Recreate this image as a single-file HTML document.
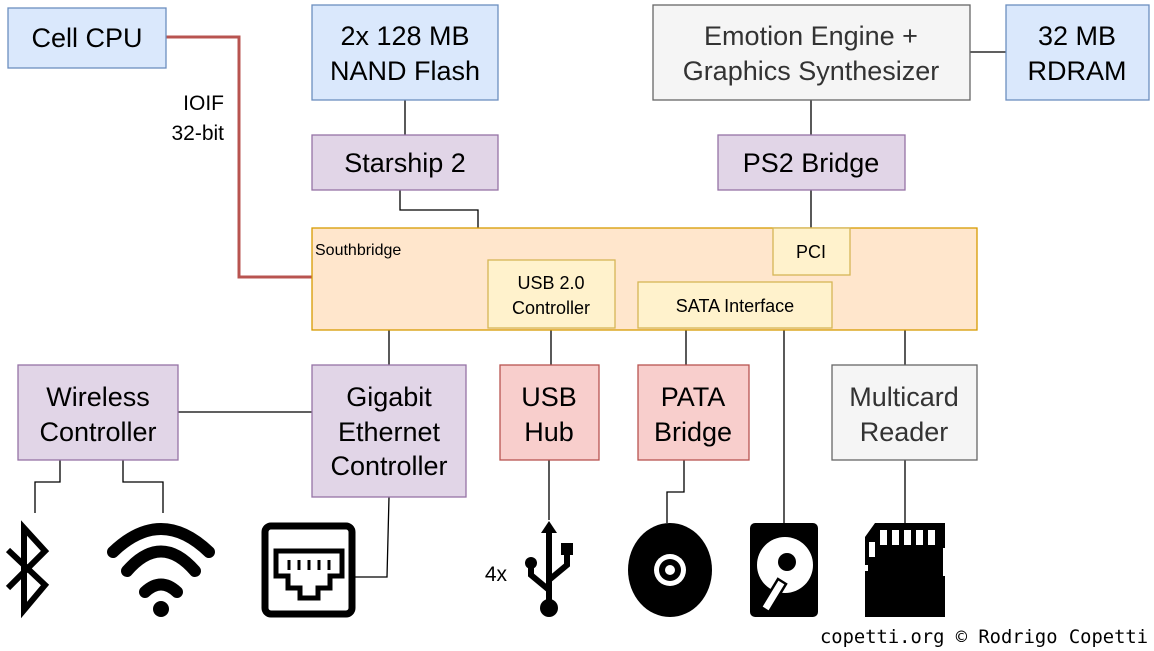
<!DOCTYPE html>
<html><head><style>body{margin:0;background:#fff}svg{display:block}.s{font-family:"Liberation Sans",Arial,sans-serif}.m{font-family:"DejaVu Sans Mono","Liberation Mono",monospace}</style></head><body>
<svg width="1154" height="651" viewBox="0 0 1154 651" xmlns="http://www.w3.org/2000/svg">
<g fill="none" stroke="#000" stroke-width="1.3">
<path d="M405 100V135M400 190V210H478V228M811 100V135M811 190V228M970 52H1006M389 330V365M551 328V365M686 328V365M784 328V523M905 330V365M178 412H312M60 460V482H35V513M123 460V482H163V513M389 497L387 577H355M549 460V520M684 460V492H667V523M905 460V523"/>
</g>
<path d="M166 37H239V277H312" fill="none" stroke="#b85450" stroke-width="3"/>
<g stroke-width="1.3">
<rect x="8" y="8" width="158" height="60" fill="#dae8fc" stroke="#6c8ebf"/>
<rect x="312" y="5" width="186" height="95" fill="#dae8fc" stroke="#6c8ebf"/>
<rect x="653" y="5" width="317" height="95" fill="#f5f5f5" stroke="#666"/>
<rect x="1006" y="5" width="143" height="95" fill="#dae8fc" stroke="#6c8ebf"/>
<rect x="312" y="135" width="186" height="55" fill="#e1d5e7" stroke="#9673a6"/>
<rect x="718" y="135" width="187" height="55" fill="#e1d5e7" stroke="#9673a6"/>
<rect x="312" y="228" width="665" height="102" fill="#ffe6cc" stroke="#d79b00"/>
<rect x="773" y="228" width="77" height="47" fill="#fff2cc" stroke="#d6b656"/>
<rect x="488" y="260" width="127" height="68" fill="#fff2cc" stroke="#d6b656"/>
<rect x="638" y="282" width="194" height="46" fill="#fff2cc" stroke="#d6b656"/>
<rect x="18" y="365" width="160" height="95" fill="#e1d5e7" stroke="#9673a6"/>
<rect x="312" y="365" width="154" height="132" fill="#e1d5e7" stroke="#9673a6"/>
<rect x="500" y="365" width="99" height="95" fill="#f8cecc" stroke="#b85450"/>
<rect x="638" y="365" width="111" height="95" fill="#f8cecc" stroke="#b85450"/>
<rect x="832" y="365" width="145" height="95" fill="#f5f5f5" stroke="#666"/>
</g>
<g class="s" font-size="27" text-anchor="middle" fill="#000">
<text x="87" y="47">Cell CPU</text>
<text x="405" y="45">2x 128 MB</text><text x="405" y="80">NAND Flash</text>
<text x="811" y="45" fill="#333">Emotion Engine +</text><text x="811" y="80" fill="#333">Graphics Synthesizer</text>
<text x="1077" y="45">32 MB</text><text x="1077" y="80">RDRAM</text>
<text x="405" y="172">Starship 2</text>
<text x="811" y="172">PS2 Bridge</text>
<text x="98" y="406">Wireless</text><text x="98" y="441">Controller</text>
<text x="389" y="406">Gigabit</text><text x="389" y="441">Ethernet</text><text x="389" y="475">Controller</text>
<text x="549" y="406">USB</text><text x="549" y="441">Hub</text>
<text x="693" y="406">PATA</text><text x="693" y="441">Bridge</text>
<text x="904" y="406" fill="#333">Multicard</text><text x="904" y="441" fill="#333">Reader</text>
</g>
<g class="s" font-size="18" text-anchor="middle">
<text x="551" y="289">USB 2.0</text><text x="551" y="314">Controller</text>
<text x="735" y="312">SATA Interface</text>
<text x="811" y="258">PCI</text>
</g>
<text class="s" x="315" y="255" font-size="16">Southbridge</text>
<g class="s" font-size="21" text-anchor="end"><text x="224" y="110">IOIF</text><text x="224" y="140">32-bit</text><text x="507" y="581">4x</text></g>
<text class="m" x="820" y="643" font-size="18.8" textLength="328" lengthAdjust="spacing">copetti.org © Rodrigo Copetti</text>
<!-- bluetooth -->
<path d="M8 550L45 585L24 610V528L45 551L8 588" fill="none" stroke="#000" stroke-width="6"/>
<!-- wifi -->
<g fill="none" stroke="#000" stroke-width="12" stroke-linecap="round">
<path d="M113 552Q161 506 209 552"/>
<path d="M127 571Q161 532 195 571"/>
<path d="M145 592Q161 577 177 592"/>
</g>
<circle cx="161" cy="609" r="8"/>
<!-- ethernet -->
<rect x="265" y="526" width="87" height="88" rx="6" fill="none" stroke="#000" stroke-width="7"/>
<path d="M276 551h66v25h-12v12h-12v10h-18v-10h-12v-12h-12z" fill="none" stroke="#000" stroke-width="5"/>
<g stroke="#000" stroke-width="3"><path d="M289 560v10M299 560v10M309 560v10M319 560v10M329 560v10"/></g>
<!-- usb -->
<g stroke="#000" stroke-width="6" fill="none"><path d="M549 530V608M549 590L531 575V565M549 580L567 565V555"/></g>
<path d="M549 521l-8 12h16z"/><circle cx="549" cy="608" r="9"/><circle cx="531" cy="563" r="6"/><rect x="561" y="543" width="12" height="12"/>
<!-- disc -->
<ellipse cx="670" cy="570" rx="42" ry="47"/>
<circle cx="670" cy="570" r="16" fill="#fff"/><circle cx="670" cy="570" r="11"/><circle cx="670" cy="570" r="5" fill="#fff"/>
<!-- hdd -->
<rect x="750" y="523" width="68" height="94" rx="5"/>
<circle cx="785" cy="565" r="28" fill="#fff"/>
<circle cx="787" cy="562" r="9"/>
<path d="M778 579l8 5l-17 28l-8-5z" fill="#fff" stroke="#000" stroke-width="2.5"/>
<!-- sd -->
<path d="M875 523h70v25h-2v28h2v41h-80v-46h3v-6h-3v-28z"/>
<g fill="#fff"><rect x="869" y="542" width="6" height="15"/><rect x="880" y="530" width="7" height="15"/><rect x="892" y="530" width="7" height="15"/><rect x="904" y="530" width="7" height="15"/><rect x="916" y="530" width="7" height="15"/><rect x="928" y="530" width="7" height="15"/></g>
</svg>
</body></html>
